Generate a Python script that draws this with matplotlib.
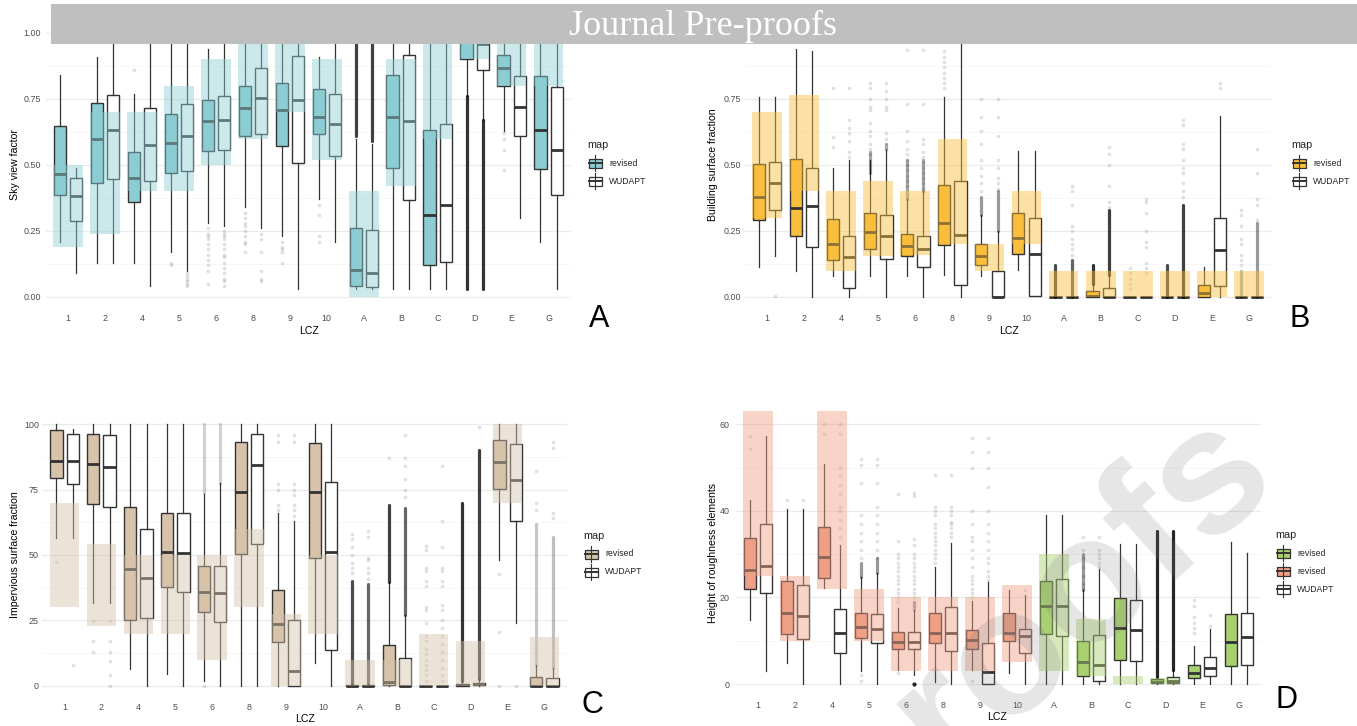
import numpy as np
import matplotlib
matplotlib.use("Agg")
import matplotlib.pyplot as plt
from matplotlib.patches import Rectangle
from matplotlib.lines import Line2D

plt.rcParams['font.family'] = ['Liberation Sans', 'DejaVu Sans']

W, H = 1357, 726

lczs = ["1", "2", "4", "5", "6", "8", "9", "10", "A", "B", "C", "D", "E", "G"]

# box stats per LCZ: (whisker low, q1, median, q3, whisker high)
# --- A: sky view factor
svf_rev = [(0.21, 0.385, 0.467, 0.647, 0.84), (0.13, 0.431, 0.600, 0.734, 0.91),
           (0.13, 0.359, 0.451, 0.551, 0.77), (0.17, 0.469, 0.585, 0.694, 1.00),
           (0.28, 0.552, 0.666, 0.747, 0.94), (0.34, 0.610, 0.716, 0.800, 1.00),
           (0.23, 0.571, 0.709, 0.811, 1.00), (0.37, 0.618, 0.681, 0.787, 0.91),
           (0.03, 0.042, 0.103, 0.262, 0.60), (0.03, 0.489, 0.681, 0.842, 1.00),
           (0.03, 0.122, 0.309, 0.633, 1.00), (0.76, 0.900, 0.970, 1.000, 1.00),
           (0.63, 0.798, 0.868, 0.917, 1.00), (0.21, 0.486, 0.633, 0.839, 1.00)]
svf_wud = [(0.09, 0.288, 0.382, 0.451, 0.49), (0.13, 0.448, 0.631, 0.767, 1.00),
           (0.04, 0.438, 0.574, 0.715, 1.00), (0.10, 0.477, 0.609, 0.731, 1.00),
           (0.27, 0.555, 0.672, 0.763, 1.00), (0.26, 0.618, 0.753, 0.866, 1.00),
           (0.03, 0.508, 0.747, 0.914, 1.00), (0.21, 0.533, 0.654, 0.769, 1.00),
           (0.03, 0.038, 0.092, 0.255, 0.58), (0.03, 0.368, 0.666, 0.917, 1.00),
           (0.03, 0.131, 0.347, 0.656, 1.00), (0.67, 0.860, 0.960, 1.000, 1.00),
           (0.30, 0.608, 0.721, 0.836, 1.00), (0.03, 0.385, 0.557, 0.797, 1.00)]
svf_rect = [(0.19, 0.50), (0.24, 0.70), (0.40, 0.70), (0.40, 0.80), (0.50, 0.90), (0.60, 1.0),
            (0.70, 1.0), (0.52, 0.90), (0.0, 0.40), (0.42, 0.90), (0.60, 1.0), (0.90, 1.0),
            (0.80, 1.0), (0.80, 1.0)]
svf_out_rev = [("4", [0.86]), ("5", [0.13, 0.12]),
               ("6", [0.26, 0.24, 0.23, 0.22, 0.20, 0.18, 0.16, 0.14, 0.12, 0.10, 0.05]),
               ("8", [0.32, 0.30, 0.28, 0.27, 0.25, 0.23, 0.21, 0.20, 0.17]),
               ("9", [0.21, 0.19, 0.18, 0.17, 0.13]), ("10", [0.35, 0.31, 0.23, 0.21]),
               ("E", [0.62, 0.60, 0.555, 0.48])]
svf_out_wud = [("5", [0.09, 0.08, 0.07, 0.06, 0.05, 0.04]),
               ("6", [0.25, 0.24, 0.23, 0.22, 0.20, 0.18, 0.16, 0.15, 0.13, 0.11, 0.09, 0.07, 0.06, 0.04]),
               ("8", [0.24, 0.22, 0.17, 0.10, 0.07, 0.06])]
svf_dense_rev = [("A", 0.61, 1.0, 0.75), ("D", 0.03, 0.76, 0.8)]
svf_dense_wud = [("A", 0.59, 1.0, 0.75), ("D", 0.03, 0.67, 0.8)]

# --- B: building surface fraction
bsf_rev = [(0.113, 0.29, 0.378, 0.502, 0.757), (0.098, 0.23, 0.338, 0.522, 0.94),
           (0.078, 0.141, 0.202, 0.295, 0.488), (0.078, 0.183, 0.246, 0.319, 0.52),
           (0.078, 0.154, 0.195, 0.24, 0.37), (0.082, 0.196, 0.281, 0.425, 0.757),
           (0.078, 0.122, 0.154, 0.20, 0.31), (0.103, 0.161, 0.223, 0.319, 0.552),
           (0, 0, 0, 0, 0), (0, 0, 0.004, 0.021, 0.05), (0, 0, 0, 0, 0), (0, 0, 0, 0, 0),
           (0, 0, 0.015, 0.044, 0.113), (0, 0, 0, 0, 0)]
bsf_wud = [(0.154, 0.33, 0.431, 0.513, 0.757), (0.0, 0.189, 0.345, 0.488, 0.933),
           (0.0, 0.035, 0.151, 0.232, 0.52), (0.0, 0.145, 0.232, 0.311, 0.555),
           (0.0, 0.114, 0.183, 0.231, 0.40), (0.0, 0.044, 0.236, 0.44, 1.0),
           (0.0, 0.0, 0.001, 0.10, 0.25), (0.003, 0.003, 0.164, 0.30, 0.552),
           (0, 0, 0, 0, 0), (0, 0, 0, 0.035, 0.085), (0, 0, 0, 0, 0), (0, 0, 0, 0, 0),
           (0, 0.04, 0.179, 0.30, 0.687), (0, 0, 0, 0, 0)]
bsf_rect = [(0.30, 0.70), (0.40, 0.767), (0.10, 0.40), (0.155, 0.44), (0.16, 0.40), (0.20, 0.60),
            (0.10, 0.20), (0.20, 0.40), (0, 0.10), (0, 0.10), (0, 0.10), (0, 0.10),
            (0, 0.10), (0, 0.10)]
bsf_out_rev = [("4", [0.79, 0.605, 0.567]),
               ("5", [0.81, 0.79, 0.75, 0.72, 0.71, 0.66, 0.63, 0.61, 0.58, 0.56, 0.54]),
               ("6", [0.935, 0.73, 0.63, 0.59, 0.56, 0.54, 0.52, 0.50, 0.48, 0.46, 0.44, 0.42]),
               ("8", [0.93, 0.91, 0.89, 0.87, 0.85, 0.83, 0.81, 0.79]),
               ("9", [0.75, 0.68, 0.63, 0.58, 0.52, 0.49, 0.46, 0.43, 0.40]),
               ("C", [0.11, 0.09, 0.07, 0.05, 0.03]),
               ("G", [0.33, 0.31, 0.27, 0.22, 0.20, 0.16, 0.14, 0.12])]
bsf_out_wud = [("1", [0.003]), ("4", [0.79, 0.67, 0.64, 0.62, 0.59, 0.55, 0.53]),
               ("5", [0.81, 0.78, 0.75, 0.72, 0.71, 0.62, 0.60, 0.58, 0.56]),
               ("6", [0.935, 0.73, 0.60, 0.58, 0.55, 0.53, 0.51, 0.49, 0.47, 0.45, 0.43, 0.41]),
               ("9", [0.75, 0.68, 0.61, 0.52, 0.49, 0.45, 0.43, 0.41]),
               ("A", [0.42, 0.40, 0.35, 0.27, 0.25, 0.22, 0.20, 0.18, 0.16]),
               ("B", [0.57, 0.54, 0.50, 0.42, 0.36, 0.34]),
               ("C", [0.37, 0.36, 0.32, 0.25, 0.21, 0.19, 0.13, 0.11, 0.09]),
               ("D", [0.67, 0.65, 0.58, 0.56, 0.52, 0.49, 0.47, 0.43, 0.40, 0.38]),
               ("E", [0.81, 0.79]),
               ("G", [0.56, 0.47, 0.37, 0.35, 0.29])]
bsf_dense_rev = [("5", 0.47, 0.55, 0.35), ("6", 0.37, 0.52, 0.35), ("9", 0.31, 0.38, 0.4),
                 ("A", 0.0, 0.12, 0.7), ("B", 0.05, 0.12, 0.8), ("D", 0.0, 0.12, 0.7),
                 ("G", 0.0, 0.10, 0.3)]
bsf_dense_wud = [("5", 0.56, 0.58, 0.3), ("6", 0.40, 0.52, 0.35), ("9", 0.25, 0.40, 0.4),
                 ("A", 0.0, 0.14, 0.6), ("B", 0.085, 0.33, 0.75), ("D", 0.0, 0.35, 0.75),
                 ("G", 0.0, 0.28, 0.4)]

# --- C: impervious surface fraction
isf_rev = [(56.4, 79.4, 85.9, 97.8, 100), (31.6, 69.4, 84.7, 96.2, 100),
           (6.6, 25.0, 44.7, 68.3, 100), (4.6, 37.8, 51.1, 66.2, 100),
           (1.7, 28.2, 35.9, 45.9, 73.2), (0, 50.3, 74.1, 93.0, 100),
           (0, 16.7, 23.6, 36.6, 66.2), (8.7, 48.9, 74.1, 92.6, 100),
           (0, 0, 0, 0.4, 0.8), (0, 0.5, 1.5, 15.7, 39.5), (0, 0, 0, 0, 0),
           (0, 0, 0.4, 0.8, 1.8), (47.9, 75.2, 85.7, 93.9, 100), (0, 0, 0, 3.3, 7.8)]
isf_wud = [(56.4, 77.2, 85.9, 96.2, 98), (31.6, 68.5, 83.7, 96.0, 100),
           (0, 25.9, 41.4, 60.0, 100), (0, 35.8, 50.6, 66.0, 100),
           (0, 24.6, 35.5, 45.9, 77.5), (0, 54.1, 84.3, 96.2, 100),
           (0, 0, 5.6, 25.2, 62.8), (0, 13.6, 51.2, 78.0, 100),
           (0, 0, 0, 0.4, 0.8), (0, 0, 0, 10.8, 26.9), (0, 0, 0, 0, 0),
           (0, 0.2, 0.6, 1.2, 2.5), (24.0, 62.8, 78.6, 92.4, 100), (0, 0, 0, 3.1, 6.8)]
isf_rect = [(30, 70), (23, 54.3), (20, 50), (20, 50), (10, 50), (30, 60), (0, 27.5), (20, 50),
            (0, 10), (0, 10), (0, 20), (0, 17), (70, 100), (0, 18.7)]
isf_out_rev = [("1", [47.3]), ("2", [24.8, 17, 13]), ("6", [0]),
               ("9", [96, 93, 77, 75, 69, 67]),
               ("A", [58, 56, 53, 50, 47, 45, 43]), ("B", [87]),
               ("C", [53.5, 52, 45, 44, 40, 38, 30, 29, 24, 19, 17, 14, 12, 10, 8, 6, 4, 2]),
               ("E", [42.8, 20.5, 0]), ("G", [82, 70, 67])]
isf_out_wud = [("1", [8.0]), ("2", [24.8, 17, 13, 9.5, 4, 0]),
               ("9", [96, 93, 77, 75, 73, 69, 67, 65]),
               ("A", [59, 57, 49, 48, 45, 43, 41]), ("B", [96, 87, 84, 79, 75, 72]),
               ("C", [84, 63, 53, 45, 44, 40, 38, 31, 29, 25, 22, 19, 16, 13, 10, 7, 4, 2]),
               ("D", [99]), ("E", [0]), ("G", [93, 91, 66, 64])]
isf_dense_rev = [("6", 73.6, 100, 0.18), ("A", 0.8, 40, 0.7), ("B", 39.5, 69, 0.75),
                 ("D", 1.8, 70, 0.8), ("G", 7.8, 62, 0.22)]
isf_dense_wud = [("6", 77.5, 100, 0.18), ("A", 0.8, 39, 0.6), ("B", 27, 68, 0.6),
                 ("D", 2.5, 90, 0.75), ("G", 6.8, 57, 0.25)]

# --- D: height of roughness elements
hre_rev = [(14.9, 21.9, 26.3, 33.7, 42.5), (4.8, 11.5, 16.5, 23.9, 40.4),
           (22.1, 24.6, 29.3, 36.2, 50.8), (3.1, 10.7, 13.2, 16.5, 24.8),
           (3.2, 8.2, 9.8, 12.1, 17.6), (0.5, 9.4, 11.7, 16.5, 27.1),
           (3.2, 8.2, 10.2, 12.4, 19.2), (2.5, 9.9, 11.7, 16.3, 21.8),
           (0, 11.5, 18.0, 23.9, 39.0), (0, 1.9, 5.0, 9.9, 21.7),
           (0, 5.5, 12.9, 19.9, 32.3), (0, 0.15, 0.5, 1.1, 1.7),
           (0, 1.3, 2.6, 4.5, 8.8), (0, 4.2, 9.8, 16.1, 32.8)]
hre_wud = [(2.9, 21.0, 27.3, 36.9, 57.3), (0, 10.3, 15.7, 22.8, 40.4),
           (0, 7.1, 11.9, 17.3, 32.1), (0, 9.5, 12.6, 16.1, 25.7),
           (2.1, 8.0, 9.8, 12.1, 17.1), (0, 7.7, 11.9, 17.9, 32.5),
           (0, 0, 2.8, 9.4, 23.6), (0, 7.2, 11.1, 12.8, 20.5),
           (0, 11.2, 18.0, 24.2, 39.0), (0, 0.7, 4.4, 11.3, 26.5),
           (0, 5.3, 12.5, 19.5, 32.3), (0, 0.15, 0.7, 1.7, 3.2),
           (0, 1.8, 3.8, 6.3, 12.6), (0, 4.5, 10.8, 16.3, 30.3)]
hre_rect = [(25, 63), (10, 25), (22, 63), (10, 21.9), (3.1, 20), (3.1, 20), (3.1, 20), (5, 22.8),
            (3.1, 30), (1.9, 15), (0, 1.9), (0, 1.5), None, None]
hre_out_rev = [("1", [57.4, 54.2]), ("2", [42.5]), ("4", [60, 57.7]),
               ("5", [51.9, 50.6, 46.5, 39, 37, 35, 33, 31, 29, 2.1, 0.7]),
               ("6", [43.8, 33, 30, 29, 28, 27, 26, 25, 24, 23, 22, 21, 20, 19, 2.5]),
               ("8", [48.4, 41, 40, 39, 37, 36, 35, 34, 33, 32, 31, 30, 29, 28]),
               ("9", [56.9, 53.5, 49.8, 40, 37, 34, 33, 31, 29, 27, 25, 24, 23, 22, 21, 20, 0.7]),
               ("B", [34, 31, 29, 27, 25, 23, 22]), ("E", [19.4, 18, 15.5, 14, 13, 11.7])]
hre_out_wud = [("2", [42.5]), ("4", [60, 57.7, 50, 48, 46, 44, 41, 40, 38, 36, 34]),
               ("5", [51.9, 50.6, 46.5, 41, 39, 37, 35, 33, 31, 29]),
               ("6", [44.2, 43.5, 33.5, 32, 30, 29, 28, 27, 26, 25, 24, 23, 22, 21, 20, 19, 18]),
               ("8", [48.4, 41, 40, 39, 37.5, 37, 36, 35, 34]),
               ("9", [56.9, 53.5, 49.8, 45.6, 40, 37, 35, 33, 31, 29, 28, 26, 25, 24]),
               ("10", [21.8]), ("B", [34, 31, 30, 29, 28, 27]), ("E", [15.9, 13.4])]
hre_dense_rev = [("5", 24.8, 28, 0.4), ("B", 21.7, 30, 0.4), ("D", 1.7, 35.3, 0.85)]
hre_dense_wud = [("5", 25.7, 29, 0.4), ("6", 17.1, 19, 0.3), ("D", 3.2, 35.3, 0.85)]
hre_dark_wud = [("6", 0.0)]

teal, gold, tan = "#8CCDD4", "#F9BE3C", "#D6C3AA"
salmon, green = "#EE9F86", "#A9D06F"
edge = "#333333"

fig = plt.figure(figsize=(W / 100, H / 100), dpi=100)


def px_axes(l, r, t, b):
    return fig.add_axes([l / W, 1 - b / H, (r - l) / W, (b - t) / H])


def draw_panel(ax, rev, wud, rects, out_rev, out_wud, dense_rev, dense_wud,
               ylim, yticks, ylabels, minor, colors, xpad, ypad):
    x = np.arange(1, len(lczs) + 1)
    for stats, shift, fills in ((rev, -0.22, colors), (wud, 0.22, ["white"] * len(lczs))):
        bstats = [dict(whislo=s[0], q1=s[1], med=s[2], q3=s[3], whishi=s[4], fliers=[])
                  for s in stats]
        bp = ax.bxp(bstats, positions=x + shift, widths=0.33, patch_artist=True,
                    showcaps=False, showfliers=False,
                    boxprops=dict(edgecolor=edge, linewidth=1.0),
                    whiskerprops=dict(color=edge, linewidth=0.9),
                    medianprops=dict(color=edge, linewidth=2.0, solid_capstyle="butt"),
                    manage_ticks=False, zorder=2)
        for patch, c in zip(bp["boxes"], fills):
            patch.set_facecolor(c)
    idx = {k: i + 1 for i, k in enumerate(lczs)}
    for outs, shift in ((out_rev, -0.22), (out_wud, 0.22)):
        for k, vals in outs:
            ax.scatter([idx[k] + shift] * len(vals), vals, s=7, color="black",
                       alpha=0.12, linewidths=0, zorder=2.5)
    for dens, shift in ((dense_rev, -0.22), (dense_wud, 0.22)):
        for k, lo, hi, shade in dens:
            ax.vlines(idx[k] + shift, lo, hi, colors="black", alpha=shade,
                      linewidth=2.3, capstyle="round", zorder=2.5)
    for i, r in enumerate(rects):
        if r is None:
            continue
        ax.bar(i + 1, r[1] - r[0], bottom=r[0], width=0.8, color=colors[i],
               alpha=0.45, linewidth=0, zorder=3)
    ax.set_xlim(0.4, 14.6)
    ax.set_ylim(*ylim)
    ax.set_xticks(x, lczs)
    ax.set_yticks(yticks, ylabels)
    ax.set_yticks(minor, minor=True)
    ax.tick_params(which="both", length=0, colors="#4D4D4D", labelsize=6.4)
    ax.tick_params(axis="x", pad=xpad)
    ax.tick_params(axis="y", pad=ypad)
    ax.grid(which="major", axis="y", color="#EBEBEB", linewidth=0.9)
    ax.grid(which="minor", axis="y", color="#F5F5F5", linewidth=0.6)
    ax.set_axisbelow(True)
    for s in ax.spines.values():
        s.set_visible(False)
    ax.patch.set_alpha(0)


fr = [0, 0.25, 0.5, 0.75, 1.0]
fr_lab = ["0.00", "0.25", "0.50", "0.75", "1.00"]
fr_min = [0.125, 0.375, 0.625, 0.875]

axA = px_axes(45.8, 570.8, 19.8, 310.2)
draw_panel(axA, svf_rev, svf_wud, svf_rect, svf_out_rev, svf_out_wud, svf_dense_rev,
           svf_dense_wud, (-0.05, 1.05), fr, fr_lab, fr_min, [teal] * 14, 2.4, 3.5)

# panel B: the 1.00 row sits under the banner
axB = px_axes(744.8, 1271.2, 19.8, 310.2)
draw_panel(axB, bsf_rev, bsf_wud, bsf_rect, bsf_out_rev, bsf_out_wud, bsf_dense_rev,
           bsf_dense_wud, (-0.05, 1.05), fr[:4], fr_lab[:4], fr_min, [gold] * 14, 2.4, 2.7)

axC = px_axes(42.4, 566.6, 411, 699)
draw_panel(axC, isf_rev, isf_wud, isf_rect, isf_out_rev, isf_out_wud, isf_dense_rev,
           isf_dense_wud, (-5, 105), [0, 25, 50, 75, 100], ["0", "25", "50", "75", "100"],
           [12.5, 37.5, 62.5, 87.5], [tan] * 14, 3.2, 2.5)

hre_cols = [green if k.isalpha() else salmon for k in lczs]
axD = px_axes(735.8, 1261.2, 411.3, 697)
draw_panel(axD, hre_rev, hre_wud, hre_rect, hre_out_rev, hre_out_wud, hre_dense_rev,
           hre_dense_wud, (-3, 63), [0, 20, 40, 60], ["0", "20", "40", "60"],
           [10, 30, 50], hre_cols, 3.2, 4.2)
for k, v in hre_dark_wud:
    axD.scatter([lczs.index(k) + 1.22], [v], s=9, color="#222222", linewidths=0, zorder=2.6)


def fx(x):
    return x / W


def fy(y):
    return 1 - y / H


# axis titles
for x, y, t in ((15, 165, "Sky view factor"), (713, 165, "Building surface fraction"),
                (15, 555, "Impervious surface fraction"), (713, 553, "Height of roughness elements")):
    fig.text(fx(x), fy(y), t, rotation=90, ha="center", va="center", fontsize=7.6)
for x, y in ((309, 331), (1009, 331), (305, 719), (997, 717)):
    fig.text(fx(x), fy(y), "LCZ", ha="center", va="center", fontsize=7.6)

# panel letters
for x, y, t in ((599, 327, "A"), (1300, 327, "B"), (592, 713, "C"), (1286, 708, "D")):
    fig.text(fx(x), fy(y), t, ha="center", va="baseline", fontsize=22)


def legend(x0, y0, entries):
    fig.text(fx(x0), fy(y0), "map", ha="left", va="center", fontsize=7.8, color="#222222")
    cx = x0 + 8
    for k, (lab, col) in enumerate(entries):
        cy = y0 + 18 + 18 * k
        fig.add_artist(Line2D([fx(cx), fx(cx)], [fy(cy - 8), fy(cy + 8)], color=edge, lw=0.8))
        fig.add_artist(Rectangle((fx(cx - 6.5), fy(cy + 4.5)), 13 / W, 9 / H, facecolor=col,
                                 edgecolor=edge, lw=0.9))
        fig.add_artist(Line2D([fx(cx - 6.5), fx(cx + 6.5)], [fy(cy), fy(cy)], color=edge, lw=1.4))
        fig.text(fx(cx + 14), fy(cy), lab, ha="left", va="center", fontsize=6.2, color="#222222")


legend(587, 145, [("revised", teal), ("WUDAPT", "white")])
legend(1291, 145, [("revised", gold), ("WUDAPT", "white")])
legend(583, 536, [("revised", tan), ("WUDAPT", "white")])
legend(1275, 535, [("revised", green), ("revised", salmon), ("WUDAPT", "white")])

# banner and watermark
fig.add_artist(Rectangle((fx(51), fy(44)), (W - 51) / W, 40 / H, facecolor="#BFBFBF",
                         edgecolor="none", zorder=10))
fig.text(fx(703), fy(35), "Journal Pre-proofs", ha="center", va="baseline", color="white",
         fontsize=26, family=["Liberation Serif", "DejaVu Serif"], zorder=11)
fig.text(fx(1281), fy(484), "Journal Pre-proofs", ha="right", va="baseline", rotation=42,
         rotation_mode="anchor", fontsize=128, fontweight="bold", color="#808080", alpha=0.2,
         zorder=12)

fig.savefig("out.png", dpi=100)
